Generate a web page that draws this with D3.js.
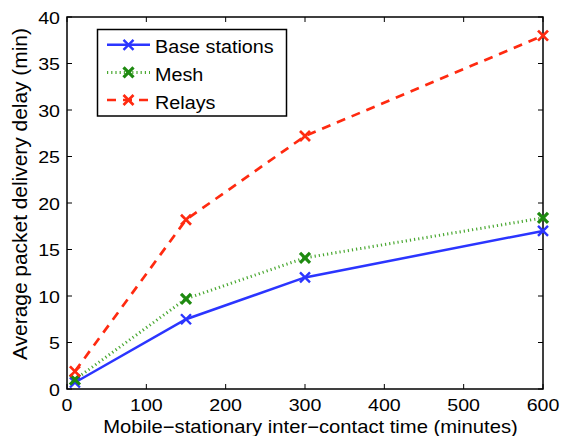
<!DOCTYPE html>
<html><head><meta charset="utf-8">
<script src="https://cdn.jsdelivr.net/npm/d3@7"></script>
<style>body{margin:0;background:#fff}svg{display:block}text{font-family:"Liberation Sans",Arial,sans-serif;fill:#000}</style>
</head><body><svg id="c" width="563" height="436"></svg>
<script>
const xValues = [10, 150, 300, 600];
const baseStations = [0.7, 7.5, 12.0, 17.0];
const mesh = [1.0, 9.7, 14.1, 18.4];
const relays = [1.9, 18.2, 27.2, 38.0];
const xTicks = [0, 100, 200, 300, 400, 500, 600];
const yTicks = [0, 5, 10, 15, 20, 25, 30, 35, 40];
const seriesNames = ["Base stations", "Mesh", "Relays"];

const svg = d3.select("#c");
const L = 67, R = 543, T = 17, B = 389;
const x = d3.scaleLinear().domain([0, 600]).range([L, R]);
const y = d3.scaleLinear().domain([0, 40]).range([B, T]);

const series = [
  {name: seriesNames[0], vals: baseStations, line: "#2b35ff", marker: "#2b35ff", dash: null, lw: 2.5, mw: 2.4},
  {name: seriesNames[1], vals: mesh, line: "#4aa832", marker: "#1e8a10", dash: "1.2,3", lw: 3, mw: 3.2},
  {name: seriesNames[2], vals: relays, line: "#ff2a10", marker: "#ff2a10", dash: "9,7", lw: 2.7, mw: 2.7}
];

// stretched text helper (reference font is wider than Liberation Sans)
function stxt(parent, tx, ty, str, size, sx, anchor, rot) {
  const g = parent.append("g").attr("transform", `translate(${tx},${ty})` + (rot ? ` rotate(${rot})` : "") + ` scale(${sx},1)`);
  return g.append("text").attr("x", 0).attr("y", 0).attr("text-anchor", anchor || "start").attr("font-size", size).text(str);
}
function fitTxt(parent, tx, ty, str, size, target, rot) {
  const g = parent.append("g").attr("transform", `translate(${tx},${ty})` + (rot ? ` rotate(${rot})` : ""));
  const t = g.append("text").attr("text-anchor", "middle").attr("font-size", size).text(str);
  const len = t.node().getComputedTextLength();
  t.attr("transform", `scale(${target / len},1)`);
}

const tickFs = 17.2, tickSx = 1.14;
xTicks.forEach(t => {
  svg.append("line").attr("x1", x(t)).attr("x2", x(t)).attr("y1", B).attr("y2", B - 5).attr("stroke", "#000");
  svg.append("line").attr("x1", x(t)).attr("x2", x(t)).attr("y1", T).attr("y2", T + 5).attr("stroke", "#000");
  stxt(svg, x(t), B + 22, t, tickFs, tickSx, "middle");
});
yTicks.forEach(t => {
  svg.append("line").attr("x1", L).attr("x2", L + 5).attr("y1", y(t)).attr("y2", y(t)).attr("stroke", "#000");
  svg.append("line").attr("x1", R).attr("x2", R - 5).attr("y1", y(t)).attr("y2", y(t)).attr("stroke", "#000");
  stxt(svg, L - 7, y(t) + 6.5, t, tickFs, tickSx, "end");
});
svg.append("rect").attr("x", L).attr("y", T).attr("width", R - L).attr("height", B - T)
  .attr("fill", "none").attr("stroke", "#000").attr("stroke-width", 1.5);

function xMark(g, cx, cy, s, color, w) {
  g.append("path").attr("d", `M${cx - s},${cy - s}L${cx + s},${cy + s}M${cx - s},${cy + s}L${cx + s},${cy - s}`)
    .attr("stroke", color).attr("stroke-width", w).attr("fill", "none");
}

const lineGen = d3.line().x((d, i) => x(xValues[i])).y(d => y(d));
series.forEach(s => {
  svg.append("path").datum(s.vals).attr("d", lineGen).attr("fill", "none")
    .attr("stroke", s.line).attr("stroke-width", s.lw).attr("stroke-dasharray", s.dash);
});
series.forEach(s => {
  s.vals.forEach((v, i) => xMark(svg, x(xValues[i]), y(v), 5, s.marker, s.mw));
});

// legend
const lg = svg.append("g");
lg.append("rect").attr("x", 97.5).attr("y", 29.5).attr("width", 189).attr("height", 86.5)
  .attr("fill", "#fff").attr("stroke", "#000").attr("stroke-width", 1.5);
series.forEach((s, i) => {
  const ly = 44.8 + i * 27.6;
  lg.append("line").attr("x1", 107).attr("x2", 150).attr("y1", ly).attr("y2", ly)
    .attr("stroke", s.line).attr("stroke-width", s.lw).attr("stroke-dasharray", s.dash);
  xMark(lg, 128.5, ly, 5, s.marker, s.mw);
  stxt(lg, 155, ly + 8.5, s.name, 18.5, 1.07, "start");
});

fitTxt(svg, 310.5, 433, "Mobile\u2212stationary inter\u2212contact time (minutes)", 18, 415);
fitTxt(svg, 27, 194, "Average packet delivery delay (min)", 19.5, 332, -90);
</script></body></html>
